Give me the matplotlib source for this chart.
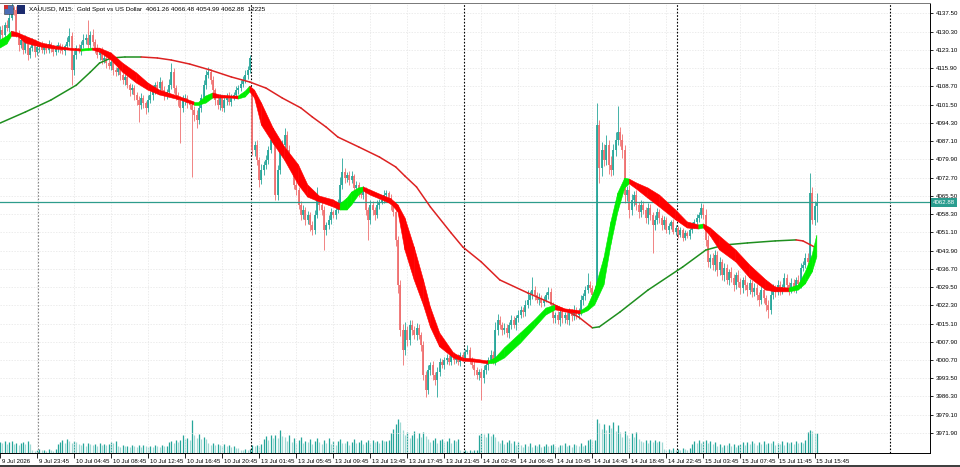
import numpy as np
import pandas as pd
import matplotlib
matplotlib.use("Agg")
import matplotlib.pyplot as plt
import matplotlib.transforms as mtransforms
from matplotlib.patches import Rectangle

# XAUUSD M15 candles (closes, wick lengths, tick volume)
closes = [
    4130.9, 4128.9, 4132.9, 4131.7, 4135.7, 4139.6, 4138.8, 4129.7, 4125.0, 4127.0,
    4123.0, 4127.0, 4121.1, 4123.8, 4126.2, 4122.2, 4124.2, 4125.0, 4123.0, 4124.6,
    4123.0, 4125.4, 4124.2, 4122.2, 4123.4, 4125.0, 4123.8, 4122.6, 4124.6, 4126.2,
    4128.5, 4115.1, 4121.1, 4123.8, 4123.0, 4125.0, 4127.0, 4127.8, 4125.0, 4128.9,
    4126.2, 4123.8, 4121.1, 4122.2, 4119.1, 4119.9, 4117.9, 4116.7, 4118.3, 4115.1,
    4114.3, 4115.9, 4113.2, 4111.2, 4112.4, 4109.2, 4107.2, 4108.0, 4105.3, 4103.3,
    4101.3, 4104.1, 4102.1, 4100.2, 4103.3, 4105.3, 4107.2, 4109.2, 4108.0, 4110.4,
    4107.2, 4105.3, 4106.5, 4109.2, 4114.3, 4108.0, 4105.3, 4103.3, 4100.2, 4103.3,
    4104.1, 4102.1, 4101.3, 4099.4, 4097.4, 4095.4, 4100.2, 4104.1, 4109.2, 4113.2,
    4114.3, 4111.2, 4107.2, 4103.3, 4101.3, 4104.1, 4100.2, 4103.3, 4104.9, 4102.5,
    4104.5, 4105.3, 4107.2, 4108.0, 4109.6, 4111.2, 4113.0, 4115.1, 4119.9, 4083.6,
    4085.5, 4079.6, 4071.7, 4075.7, 4077.7, 4079.6, 4083.6, 4087.5, 4088.3, 4065.8,
    4075.7, 4083.6, 4085.5, 4089.5, 4083.6, 4079.6, 4077.7, 4069.8, 4067.8, 4061.9,
    4057.9, 4059.9, 4056.0, 4057.9, 4054.0, 4052.0, 4057.9, 4063.9, 4061.9, 4059.9,
    4052.0, 4054.0, 4056.0, 4059.1, 4057.9, 4059.9, 4061.9, 4069.8, 4074.9, 4072.5,
    4073.7, 4071.7, 4073.3, 4068.6, 4069.8, 4067.0, 4065.8, 4067.8, 4059.9, 4056.0,
    4061.9, 4059.9, 4057.9, 4061.9, 4063.1, 4063.9, 4065.8, 4066.6, 4064.6, 4061.9,
    4059.1, 4048.1, 4030.3, 4012.6, 4004.7, 4012.6, 4008.6, 4014.5, 4012.6, 4010.6,
    4013.4, 4010.6, 4006.6, 3994.8, 3988.9, 3996.8, 3998.8, 3994.8, 3992.8, 3996.0,
    3999.9, 3998.8, 4000.7, 4001.5, 3999.9, 4002.7, 4000.7, 4001.5, 3999.9, 4002.7,
    4001.5, 4003.9, 4004.7, 4000.7, 3998.8, 3996.8, 3994.8, 3996.0, 3993.6, 3996.8,
    3998.8, 4000.7, 4002.7, 4000.7, 4012.6, 4016.5, 4014.5, 4012.6, 4013.4, 4011.4,
    4014.5, 4016.5, 4014.5, 4017.3, 4018.5, 4020.5, 4019.7, 4022.4, 4024.4, 4026.4,
    4028.3, 4026.4, 4024.4, 4025.2, 4023.2, 4024.4, 4026.4, 4027.6, 4022.4, 4017.3,
    4018.5, 4016.5, 4019.7, 4017.3, 4018.5, 4016.5, 4019.7, 4018.1, 4020.5, 4018.5,
    4019.7, 4024.4, 4026.0, 4028.3, 4030.3, 4029.1, 4026.4, 4028.3, 4093.4, 4076.5,
    4083.6, 4079.6, 4085.5, 4077.7, 4075.7, 4083.6, 4087.5, 4090.7, 4087.5, 4083.6,
    4065.8, 4067.8, 4059.9, 4063.9, 4065.8, 4061.9, 4059.1, 4061.9, 4059.9, 4056.8,
    4060.7, 4057.9, 4054.0, 4056.0, 4059.1, 4056.8, 4054.0, 4056.0, 4052.0, 4053.6,
    4055.2, 4051.2, 4052.8, 4050.0, 4052.0, 4048.9, 4050.8, 4049.6, 4052.0, 4054.0,
    4055.2, 4056.8, 4057.9, 4060.7, 4057.9, 4048.1, 4039.4, 4041.0, 4038.2, 4042.2,
    4036.2, 4039.4, 4034.3, 4037.0, 4032.3, 4035.4, 4033.1, 4030.3, 4034.3, 4031.5,
    4029.1, 4032.3, 4030.3, 4028.3, 4031.1, 4027.6, 4029.1, 4026.4, 4024.4, 4028.3,
    4025.2, 4022.4, 4020.5, 4026.4, 4029.1, 4027.6, 4030.3, 4028.3, 4029.5, 4033.1,
    4030.3, 4028.3, 4031.1, 4029.1, 4032.3, 4030.7, 4037.0, 4038.2, 4041.0, 4039.4,
    4066.6, 4056.0, 4061.3, 4062.88,
]
gap_opens = {0: 4129.5, 109: 4107.2}

wick_up = [
    1.5, 2.0, 1.2, 1.8, 2.5, 2.0, 1.0, 1.5, 1.2, 2.0,
    1.0, 1.8, 1.2, 0.8, 1.5, 1.0, 1.2, 0.8, 1.5, 1.0,
    1.2, 1.5, 0.8, 1.0, 1.8, 1.2, 1.0, 1.5, 0.8, 2.0,
    3.2, 1.5, 2.0, 1.2, 1.8, 1.5, 2.2, 1.5, 7.1, 1.8,
    2.5, 1.2, 1.5, 1.0, 2.0, 1.5, 1.2, 1.8, 1.0, 1.5,
    1.2, 2.0, 1.0, 1.5, 1.2, 1.8, 1.0, 1.5, 1.2, 1.0,
    1.5, 2.0, 1.2, 1.0, 1.8, 1.5, 2.2, 1.2, 1.5, 2.0,
    1.0, 1.5, 1.2, 2.5, 3.6, 1.5, 1.2, 1.0, 1.5, 2.0,
    1.5, 1.2, 1.0, 1.8, 1.5, 2.0, 2.5, 1.5, 2.2, 1.8,
    2.0, 1.2, 1.5, 1.0, 1.8, 1.5, 1.2, 2.0, 1.0, 1.5,
    1.2, 1.0, 1.5, 1.2, 1.8, 1.5, 2.0, 1.5, 1.2, 0.5,
    1.5, 2.0, 1.2, 2.5, 1.5, 2.0, 1.5, 1.8, 4.0, 1.5,
    2.0, 1.5, 2.2, 2.8, 1.5, 1.8, 1.2, 2.0, 1.5, 1.2,
    1.5, 2.0, 1.0, 1.8, 1.2, 1.5, 2.0, 5.0, 1.5, 1.2,
    1.5, 1.2, 2.0, 1.5, 1.0, 1.8, 2.5, 3.0, 5.5, 1.5,
    1.2, 1.5, 2.0, 1.0, 1.5, 1.2, 1.8, 1.5, 1.2, 1.0,
    2.0, 1.5, 1.0, 1.8, 1.2, 1.5, 2.0, 1.2, 1.0, 1.5,
    1.2, 1.0, 1.5, 2.0, 2.5, 3.0, 1.5, 2.0, 1.8, 1.5,
    2.0, 1.5, 1.2, 1.8, 1.5, 2.0, 1.2, 1.5, 1.0, 1.8,
    1.5, 1.2, 1.0, 1.5, 1.2, 1.8, 1.0, 1.2, 1.5, 1.0,
    1.2, 1.0, 2.0, 1.2, 1.0, 1.5, 1.2, 1.0, 1.5, 1.8,
    1.5, 1.2, 2.0, 1.5, 3.0, 2.5, 1.5, 1.2, 2.0, 1.5,
    1.2, 1.8, 1.5, 1.2, 2.0, 1.5, 1.0, 1.8, 3.9, 1.5,
    5.2, 1.5, 1.2, 1.8, 1.0, 1.5, 1.2, 2.0, 1.5, 1.2,
    1.0, 1.5, 1.2, 1.8, 1.0, 1.2, 1.5, 1.0, 1.8, 1.2,
    1.5, 2.0, 1.2, 1.5, 4.7, 1.5, 1.2, 1.5, 8.7, 2.0,
    3.0, 2.5, 4.0, 2.0, 3.5, 2.5, 3.0, 10.2, 2.0, 2.5,
    2.0, 1.5, 2.0, 2.5, 1.5, 2.0, 1.2, 1.8, 1.5, 1.2,
    2.0, 1.5, 1.2, 1.8, 1.5, 1.2, 1.0, 1.5, 1.2, 1.0,
    0.8, 1.0, 1.2, 0.8, 1.0, 0.8, 1.2, 1.0, 0.8, 1.2,
    1.0, 1.5, 1.2, 2.0, 1.5, 2.5, 2.0, 1.5, 2.0, 1.8,
    1.5, 2.0, 1.2, 1.8, 1.5, 1.2, 2.0, 1.5, 1.2, 1.8,
    1.5, 1.2, 1.8, 1.0, 1.5, 1.2, 1.8, 1.5, 1.2, 2.0,
    1.5, 1.2, 1.8, 2.0, 1.5, 1.2, 1.8, 1.5, 1.2, 1.9,
    1.5, 1.2, 1.8, 1.5, 1.2, 1.8, 2.0, 1.5, 1.8, 2.0,
    7.9, 2.5, 2.0, 3.6,
]
wick_dn = [
    2.0, 1.5, 1.8, 1.2, 1.5, 1.0, 2.0, 1.5, 2.5, 1.2,
    1.5, 1.0, 2.0, 1.2, 1.0, 1.8, 1.2, 2.0, 1.0, 1.5,
    1.0, 1.2, 1.8, 1.5, 1.0, 1.2, 2.0, 1.0, 1.5, 1.2,
    1.5, 5.9, 2.0, 1.5, 1.2, 1.8, 1.0, 1.5, 2.0, 1.2,
    1.5, 1.8, 1.2, 2.0, 1.5, 1.0, 1.8, 1.2, 1.5, 2.0,
    1.5, 1.2, 2.0, 1.5, 1.8, 1.2, 2.5, 1.5, 2.0, 1.8,
    6.7, 1.5, 2.0, 2.5, 1.5, 1.2, 1.8, 1.5, 1.2, 1.0,
    1.8, 2.0, 1.5, 1.2, 1.5, 2.0, 1.8, 2.5, 13.9, 1.5,
    1.8, 2.0, 1.5, 26.5, 2.5, 3.0, 1.5, 1.8, 1.2, 1.5,
    1.2, 1.5, 2.0, 1.8, 1.5, 2.0, 1.2, 1.5, 1.8, 1.2,
    1.5, 1.2, 1.0, 1.5, 1.2, 1.0, 1.2, 1.5, 1.0, 2.0,
    2.5, 1.8, 2.7, 1.5, 2.0, 1.8, 1.5, 1.2, 1.5, 1.9,
    2.0, 1.5, 1.8, 1.2, 2.0, 1.5, 2.2, 1.8, 2.0, 1.5,
    2.0, 1.5, 2.2, 1.8, 2.5, 2.0, 1.5, 1.2, 1.8, 2.0,
    8.0, 2.0, 1.5, 1.8, 1.2, 1.5, 1.0, 1.2, 1.5, 1.8,
    1.5, 1.8, 1.2, 2.0, 1.5, 1.8, 1.2, 1.5, 2.0, 8.0,
    1.5, 2.0, 1.8, 1.2, 1.5, 1.0, 1.2, 1.5, 1.8, 2.0,
    1.5, 2.5, 3.0, 2.5, 5.9, 2.0, 2.5, 1.8, 2.0, 1.5,
    2.0, 1.8, 2.5, 2.0, 2.8, 1.5, 2.0, 1.8, 2.0, 6.7,
    1.5, 1.2, 1.8, 1.5, 1.2, 1.0, 1.5, 1.2, 1.0, 1.5,
    1.0, 1.2, 0.8, 1.5, 1.2, 2.0, 1.5, 1.8, 8.6, 2.0,
    1.5, 2.0, 1.2, 1.5, 1.8, 2.0, 1.5, 2.2, 1.8, 1.5,
    2.0, 1.5, 1.2, 1.8, 1.5, 1.2, 2.0, 1.5, 1.2, 1.8,
    1.5, 2.0, 1.2, 1.8, 1.5, 1.2, 1.0, 1.5, 2.0, 1.8,
    2.0, 1.5, 2.5, 1.8, 2.0, 1.5, 1.8, 2.2, 1.5, 1.8,
    1.5, 1.2, 1.8, 1.5, 1.2, 1.5, 1.8, 1.2, 1.5, 6.0,
    3.0, 2.5, 2.0, 3.5, 2.5, 2.0, 2.5, 2.0, 2.5, 3.0,
    3.0, 2.5, 3.0, 2.0, 2.5, 1.8, 2.5, 2.0, 1.5, 2.0,
    2.5, 2.0, 11.1, 2.0, 1.5, 2.2, 1.8, 1.5, 1.2, 1.5,
    1.0, 0.8, 1.2, 1.0, 0.8, 1.2, 1.0, 0.8, 1.2, 1.0,
    1.2, 1.0, 1.5, 1.2, 1.5, 2.5, 2.0, 2.5, 2.0, 2.2,
    2.5, 1.8, 2.0, 2.5, 1.5, 2.0, 1.8, 2.5, 1.5, 2.0,
    2.2, 1.8, 2.0, 2.5, 1.5, 2.0, 1.8, 2.2, 2.5, 1.5,
    2.0, 2.5, 3.2, 1.8, 1.5, 2.0, 1.2, 1.8, 1.5, 1.2,
    1.5, 1.8, 1.2, 1.5, 2.0, 1.2, 1.5, 1.2, 1.0, 1.5,
    1.5, 1.8, 2.0, 6.3,
]
volumes = [
    6700, 5800, 7100, 5200, 6500, 7400, 5500, 6200, 4800, 5900,
    6300, 5600, 6900, 5100,
    1600, 1200, 1900, 2400, 1500, 1800, 1300, 2100, 1700, 1400, 2600,
    5200, 6800, 7600, 6100, 8500, 7000, 5900, 7300, 6400,
    5100, 4600, 5800, 4300, 6000, 5200, 4700, 5500, 4400, 5900, 4800, 5300, 4500, 5600,
    6700, 6200, 6900,
    4200, 3600, 4700, 3900, 4400, 3300, 4900, 4100, 3700, 4500, 3500,
    4800, 4000, 3600, 4300, 3800, 5000, 4200, 3400, 4600, 3900, 4400,
    6300, 7200, 6000, 7700, 6600, 8000, 11000,
    8400, 9200, 7800, 19500,
    10800, 9000, 11200, 8500, 9800, 8100,
    5900, 5000, 6200, 4500, 5600, 4800, 4200, 5300, 3900, 4600, 3500, 4100, 3200, 2800,
    1900, 1600, 2100, 1800, 2400,
    4700, 4200, 4900, 4400, 5100,
    8600, 9900, 7800, 10500, 9200, 11000, 8800, 14000, 10200,
    9500, 7200, 10800, 6500, 8900, 6100, 7600, 9300, 5800, 7000,
    6500, 8200, 5400, 7100, 9000, 6300, 5200, 7800, 6000, 8800,
    5600, 6900, 4800, 7400, 8500, 6200, 5900, 7300, 5000, 6600,
    8100, 5700, 6400, 7700, 5300,
    6800, 7500, 6200, 7900, 6500, 7100, 6000, 7600, 6900, 7300, 8000,
    12000, 14500, 17000, 20000, 18300,
    13500, 11000, 12800, 9200, 10600, 13100, 8800, 11800, 9500, 12400, 10100,
    8400, 6800, 7700, 9000, 6200, 7900, 8600, 6500, 7300, 8900, 6100, 7500, 6900, 8200,
    1600, 1200, 1800, 1400, 1900, 1100, 1500, 2000,
    10500, 12000, 11200, 9800, 12100, 10400, 11600, 9600,
    7200, 6000, 7900, 5400, 6700, 7600, 5800, 6900, 5000, 6300,
    4600, 3800, 5200, 4100, 5800, 3500, 4900, 4300, 5500, 3700,
    4400, 5100, 3900, 4800, 5600, 4200, 3600, 5000, 4500, 5900,
    4000, 4700, 3400, 5300, 4600, 3900, 5700, 4200, 4900,
    7800, 8200, 7500, 8000, 20200,
    18000, 14500, 17200, 13600, 16400, 15100, 18500, 13300, 16800,
    12400, 9600, 13000, 10800, 8900, 11700, 9300, 12600, 8500,
    7300, 6500, 7900, 6100, 7600, 6800, 8000, 6300, 7100, 6700,
    2200, 1800, 2600, 1500, 2900, 2000, 2400, 1700, 3000, 2300, 1900, 2700,
    5400, 7100, 6200, 7800, 5800, 6900, 7500, 6100, 7300, 5600, 6600,
    4400, 5500, 3800, 5000, 4600, 5800, 4100, 5200, 3600, 4800,
    5600, 6800, 4900, 6300, 5300, 7100, 5900, 4700, 6500, 5400,
    7000, 5100, 6200, 5700, 6900, 4800, 6100, 5500, 7300, 5000,
    6600, 5800, 6400, 5200, 7200, 5900, 6700, 6000, 7500,
    12800, 14000, 13400, 11900, 12225,
]

# slow moving average (thin line), read at selected bars
ma_bars = [0, 11, 22, 33, 39, 43, 48, 54, 61, 68, 74, 82, 91, 100, 108, 115, 122,
           130, 135, 141, 146, 155, 164, 171, 175, 180, 186, 195, 200, 208, 216,
           228, 238, 250, 256, 259, 268, 280, 295, 305, 313, 323, 335, 344, 347, 352]
ma_vals = [4094.2, 4098.6, 4103.3, 4109.2, 4114.3, 4117.9, 4119.9, 4120.3, 4120.3,
           4119.9, 4119.1, 4117.5, 4115.1, 4112.4, 4110.4, 4108.0, 4104.1, 4100.2,
           4096.6, 4092.6, 4088.7, 4084.8, 4080.8, 4076.9, 4073.3, 4069.0, 4061.1,
           4050.8, 4045.3, 4039.4, 4032.3, 4027.2, 4023.2, 4017.7, 4013.4, 4013.8,
           4019.7, 4028.3, 4037.4, 4044.1, 4046.1, 4046.9, 4047.7, 4048.1, 4047.7,
           4045.3]

# fast ribbon (upper / lower edge), read at selected bars
rib_bars = [0, 3, 5, 8, 11, 14, 18, 24, 30, 35, 40, 43, 48, 53, 59, 64, 69, 78, 84,
            86, 89, 92, 95, 100, 103, 106, 108, 110, 113, 118, 123, 129, 133, 138,
            144, 147, 150, 152, 155, 157, 160, 164, 169, 172, 175, 179, 183, 186,
            190, 196, 200, 205, 211, 214, 218, 225, 231, 236, 240, 244, 251, 254,
            257, 261, 264, 267, 270, 272, 275, 280, 285, 292, 297, 302, 304, 307,
            311, 318, 324, 331, 335, 341, 345, 348, 351, 353]
rib_hi = [4127.0, 4128.5, 4130.5, 4129.7, 4128.5, 4127.4, 4125.8, 4124.6, 4123.8,
          4123.4, 4123.8, 4123.8, 4121.9, 4117.9, 4114.0, 4110.0, 4107.2, 4104.5,
          4102.5, 4102.5, 4104.9, 4106.1, 4105.3, 4104.9, 4104.9, 4106.8, 4108.8,
          4107.2, 4102.1, 4092.3, 4084.8, 4077.7, 4069.8, 4065.4, 4063.9, 4062.3,
          4064.6, 4067.0, 4068.6, 4069.0, 4067.8, 4066.2, 4064.3, 4061.9, 4056.8,
          4045.3, 4032.3, 4021.6, 4011.4, 4003.5, 4001.5, 4001.1, 4000.3, 4001.5,
          4005.5, 4011.4, 4016.5, 4021.2, 4022.4, 4020.9, 4020.1, 4022.0, 4028.3,
          4041.0, 4055.2, 4066.6, 4072.5, 4072.1, 4070.6, 4068.6, 4065.8, 4059.9,
          4055.2, 4054.0, 4054.4, 4052.8, 4049.6, 4044.1, 4038.2, 4032.3, 4029.5,
          4029.1, 4030.3, 4035.4, 4042.2, 4050.0]
rib_lo = [4123.8, 4125.4, 4128.5, 4128.2, 4125.8, 4125.0, 4124.2, 4123.4, 4123.0,
          4122.6, 4123.0, 4122.2, 4119.1, 4114.3, 4110.0, 4107.2, 4105.3, 4103.3,
          4101.3, 4101.3, 4102.1, 4104.1, 4104.1, 4104.1, 4103.7, 4104.5, 4106.5,
          4104.1, 4093.4, 4086.3, 4079.6, 4069.8, 4065.0, 4063.1, 4061.1, 4059.9,
          4059.9, 4061.9, 4065.8, 4067.4, 4065.8, 4064.3, 4062.3, 4059.1, 4044.1,
          4032.3, 4022.4, 4013.7, 4005.9, 4001.5, 4000.3, 3999.9, 3999.2, 3999.5,
          4001.5, 4007.4, 4013.4, 4018.5, 4020.5, 4019.7, 4018.9, 4020.1, 4022.4,
          4030.3, 4046.1, 4059.1, 4068.6, 4070.2, 4068.2, 4064.6, 4061.1, 4056.0,
          4052.8, 4052.4, 4052.8, 4049.6, 4044.1, 4039.4, 4033.1, 4028.3, 4027.6,
          4027.6, 4028.3, 4030.7, 4035.4, 4041.4]

price_ticks = [4137.50, 4130.30, 4123.10, 4115.90, 4108.70, 4101.50, 4094.30,
               4087.10, 4079.90, 4072.70, 4065.50, 4058.30, 4051.10, 4043.90,
               4036.70, 4029.50, 4022.30, 4015.10, 4007.90, 4000.70, 3993.50,
               3986.30, 3979.10, 3971.90]

sessions = [("2026-07-09 19:45", "2026-07-09 23:45"),
            ("2026-07-10 01:00", "2026-07-10 23:45"),
            ("2026-07-13 01:00", "2026-07-13 23:45"),
            ("2026-07-14 01:00", "2026-07-14 23:45"),
            ("2026-07-15 01:00", "2026-07-15 23:45")]
tick_times = ["2026-07-09 19:45", "2026-07-09 23:45", "2026-07-10 04:45",
              "2026-07-10 08:45", "2026-07-10 12:45", "2026-07-10 16:45",
              "2026-07-10 20:45", "2026-07-13 01:45", "2026-07-13 05:45",
              "2026-07-13 09:45", "2026-07-13 13:45", "2026-07-13 17:45",
              "2026-07-13 21:45", "2026-07-14 02:45", "2026-07-14 06:45",
              "2026-07-14 10:45", "2026-07-14 14:45", "2026-07-14 18:45",
              "2026-07-14 22:45", "2026-07-15 03:45", "2026-07-15 07:45",
              "2026-07-15 11:45", "2026-07-15 15:45"]
tick_labels = ["9 Jul 2026", "9 Jul 23:45", "10 Jul 04:45", "10 Jul 08:45",
               "10 Jul 12:45", "10 Jul 16:45", "10 Jul 20:45", "13 Jul 01:45",
               "13 Jul 05:45", "13 Jul 09:45", "13 Jul 13:45", "13 Jul 17:45",
               "13 Jul 21:45", "14 Jul 02:45", "14 Jul 06:45", "14 Jul 10:45",
               "14 Jul 14:45", "14 Jul 18:45", "14 Jul 22:45", "15 Jul 03:45",
               "15 Jul 07:45", "15 Jul 11:45", "15 Jul 15:45"]

title = "XAUUSD, M15:  Gold Spot vs US Dollar  4061.26 4066.48 4054.99 4062.88  12225"
last_price = 4062.88

n = len(closes)
assert len(wick_up) == n and len(wick_dn) == n and len(volumes) == n, (len(wick_up), len(wick_dn), len(volumes))

times = pd.DatetimeIndex(np.concatenate(
    [pd.date_range(a, b, freq="15min").values for a, b in sessions]))
x = np.arange(n)
c = np.array(closes)
o = np.r_[c[0], c[:-1]]
for k, v in gap_opens.items():
    o[k] = v
hi = np.maximum(o, c) + np.array(wick_up)
lo = np.minimum(o, c) - np.array(wick_dn)
vol = np.array(volumes)

BULL = "#26a69a"
BEAR = "#ef6f6f"

fig = plt.figure(figsize=(9.6, 4.67), dpi=100)
pos = [0.0, 14 / 467, 930 / 960, 450 / 467]
vax = fig.add_axes(pos)
ax = fig.add_axes(pos, sharex=vax)
ax.patch.set_alpha(0)
vax.set_facecolor("white")
vax.set_axis_off()

xlim = (0.2, 401.9)
ax.set_xlim(*xlim)
ax.set_ylim(3964.0, 4141.6)
vax.set_ylim(0, 12225 / 20.5 * 450)

# grid
for p in price_ticks:
    ax.axhline(p, color="#e4e4e4", lw=0.5, ls=(0, (2, 2)), zorder=0)
tick_idx = [times.get_loc(pd.Timestamp(t)) for t in tick_times]
for t in tick_idx[1:]:
    ax.axvline(t, color="#e4e4e4", lw=0.5, ls=(0, (2, 2)), zorder=0)

# day separators (also the next, still empty day)
day = times.normalize()
starts = list(np.where(day[1:] != day[:-1])[0] + 1) + [len(times)]
for k, s in enumerate(starts):
    ax.axvline(s - 0.5, color="#888888" if k == 0 else "black", lw=0.8,
               ls=(0, (1.5, 1.5)), zorder=1)

# volumes
vcol = [BULL if i == 0 or vol[i] >= vol[i - 1] else "#9fd9d4" for i in range(n)]
vax.vlines(x, 0, vol, colors=vcol, lw=0.9)

# candles
ccol = [BULL if c[i] >= o[i] else BEAR for i in range(n)]
ax.vlines(x, lo, hi, colors=ccol, lw=0.6, zorder=2)
ax.vlines(x, np.minimum(o, c), np.maximum(np.maximum(o, c), np.minimum(o, c) + 0.25),
          colors=ccol, lw=1.3, zorder=2)

ax.axhline(last_price, color="#2e9c8c", lw=0.9, zorder=3)

# slow MA: green while rising, red while falling
for k in range(len(ma_bars) - 1):
    col = "#1f8f1f" if ma_vals[k + 1] >= ma_vals[k] else "#dd2222"
    ax.plot(ma_bars[k:k + 2], ma_vals[k:k + 2], color=col, lw=1.1,
            solid_capstyle="round", zorder=4)

# ribbon: lime while rising, red while falling
for k in range(len(rib_bars) - 1):
    m0 = rib_hi[k] + rib_lo[k]
    m1 = rib_hi[k + 1] + rib_lo[k + 1]
    col = "#00ee00" if m1 >= m0 else "#ff0000"
    b0, b1 = rib_bars[k], rib_bars[k + 1]
    ax.fill([b0, b1, b1, b0], [rib_hi[k], rib_hi[k + 1], rib_lo[k + 1], rib_lo[k]],
            facecolor=col, edgecolor=col, lw=0.4, zorder=5)

# axes styling
for side in ["left"]:
    ax.spines[side].set_visible(False)
for side in ["right", "bottom", "top"]:
    ax.spines[side].set_color("black")
    ax.spines[side].set_linewidth(0.7)
ax.spines["top"].set_color("#777777")

ax.yaxis.tick_right()
ax.set_yticks(price_ticks)
ax.set_yticklabels(["%.2f" % p for p in price_ticks])
ax.tick_params(axis="y", direction="out", length=2.5, width=0.6, pad=1.5,
               labelsize=4.4, left=False, right=True)
for lab in ax.get_yticklabels():
    lab.set_family("Liberation Sans")

ax.set_xticks(tick_idx)
ax.set_xticklabels(tick_labels)
ax.tick_params(axis="x", direction="out", length=3.5, width=0.6, pad=0.5,
               labelsize=4.4)
offset = mtransforms.ScaledTranslation(1.5 / 100, 0, fig.dpi_scale_trans)
for lab in ax.get_xticklabels():
    lab.set_horizontalalignment("left")
    lab.set_family("Liberation Sans")
    lab.set_transform(lab.get_transform() + offset)

# current price tag
trans = mtransforms.blended_transform_factory(ax.transAxes, ax.transData)
ax.text(1.003, last_price, "%.2f" % last_price, transform=trans, ha="left",
        va="center", color="white", fontsize=4.4, family="Liberation Sans",
        bbox=dict(boxstyle="square,pad=0.3", fc="#2a9d8f", ec="none"),
        clip_on=False, zorder=10)

# header: symbol icons and OHLC line
fig.patches.append(Rectangle((4 / 960, 1 - 14 / 467), 9 / 960, 9 / 467,
                             transform=fig.transFigure, fc="#4a6fb5", ec="#333333", lw=0.4))
fig.patches.append(Rectangle((4 / 960, 1 - 9 / 467), 4 / 960, 4 / 467,
                             transform=fig.transFigure, fc="#d03030", ec="none"))
fig.patches.append(Rectangle((17 / 960, 1 - 14 / 467), 8 / 960, 9 / 467,
                             transform=fig.transFigure, fc="#1c2b6e", ec="none"))
fig.text(29 / 960, 1 - 10 / 467, title, fontsize=4.6, family="Liberation Sans",
         va="center", ha="left", color="black")

# bottom frame line
fig.patches.append(Rectangle((0, 0), 1, 2 / 467, transform=fig.transFigure,
                             fc="#404040", ec="none"))

fig.savefig("out.png", dpi=100)
